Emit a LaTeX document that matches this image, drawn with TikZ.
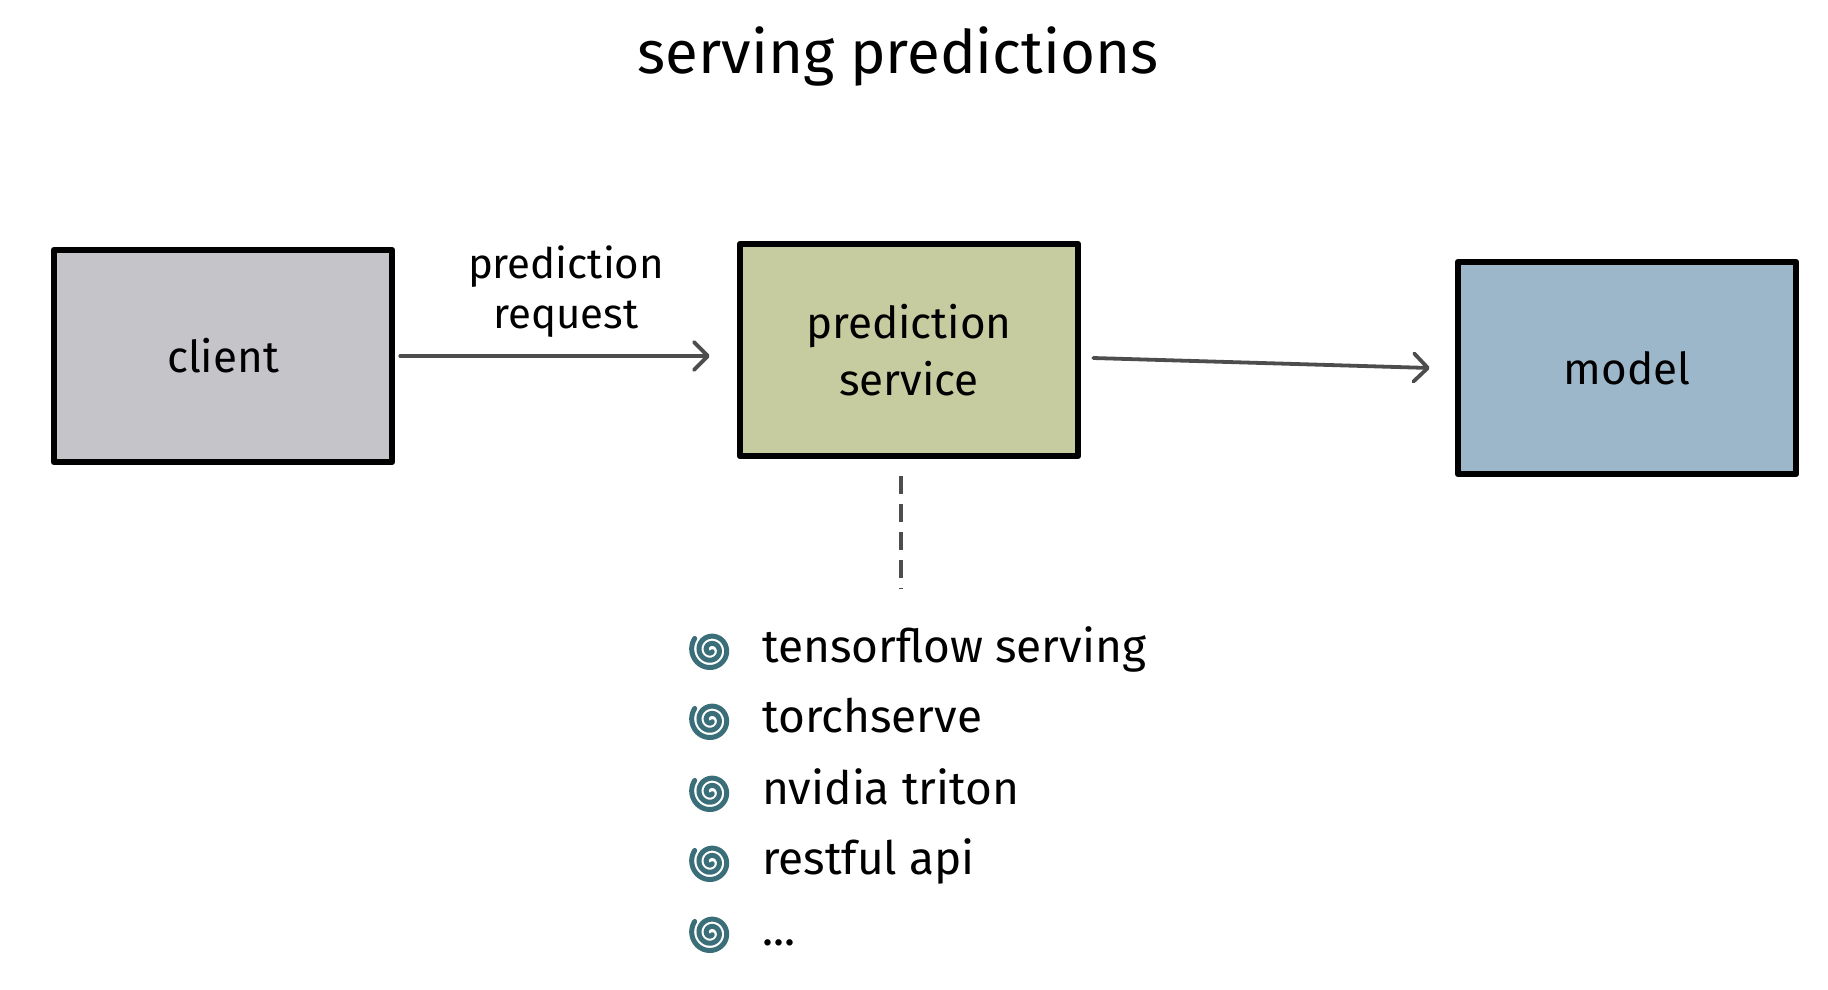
\documentclass[tikz,border=0pt]{standalone}
\usepackage{fontspec}
\setmainfont{Fira Sans}
\usetikzlibrary{arrows.meta}
\definecolor{clientfill}{HTML}{C5C4C9}
\definecolor{servicefill}{HTML}{C6CBA0}
\definecolor{modelfill}{HTML}{9DB7CA}
\definecolor{spiralcol}{HTML}{3A6E79}
\definecolor{arrowcol}{HTML}{4D4D4D}
\begin{document}
\begin{tikzpicture}[x=1pt,y=-1pt,
  box/.style={draw=black, line width=6.5pt, line join=round, minimum width=338pt, minimum height=212pt,
    inner sep=0pt, align=center, font=\fontsize{44}{57}\selectfont},
  arr/.style={draw=arrowcol, line width=3.8pt, line cap=round,
    -{Straight Barb[length=14pt,width=28pt,line width=3.8pt,round]}},
  dashline/.style={draw=arrowcol, line width=4pt, dash pattern=on 18pt off 10pt},
  lbl/.style={align=center, font=\fontsize{42}{50}\selectfont, inner sep=0pt},
  item/.style={anchor=base west, inner sep=0pt, font=\fontsize{46}{56}\selectfont},
  spiral/.pic={\draw[spiralcol, line width=5pt, line cap=round]
     plot[domain=0.15:2.6, samples=160, variable=\t]
     ({(1+19*\t/2.6)*cos(360*\t)}, {(1+19*\t/2.6)*sin(360*\t)});}
]
\useasboundingbox[fill=white] (0,0) rectangle (1828,990);

\node[font=\fontsize{60}{70}\selectfont, anchor=base] (title) at (898,74) {serving predictions};

\node[box, fill=clientfill] (client) at (223,356) {client};
\node[box, fill=servicefill] (service) at (909,350) {prediction\\service};
\node[box, fill=modelfill] (model) at (1627,368) {model};

\draw[arr] ([xshift=5pt]client.east) -- ([xshift=-27pt]client.east -| service.west);
\node[lbl] (reqlabel) at (566,292) {prediction\\request};
\draw[arr] ([xshift=12pt,yshift=-8pt]service.east) -- ([xshift=-25pt]model.west);

\coordinate (dashend) at (901,589);
\draw[dashline] ([yshift=-17pt]service.south -| dashend) -- (dashend);

\pic at (711,650) {spiral};
\pic at (711,720) {spiral};
\pic at (711,792) {spiral};
\pic at (711,862) {spiral};
\pic at (711,933) {spiral};
\node[item] (b1) at (762,662) {tensorflow serving};
\node[item] (b2) at (762,732) {torchserve};
\node[item] (b3) at (762,804) {nvidia triton};
\node[item] (b4) at (762,874) {restful api};
\node[item] (b5) at (762,945) {...};
\end{tikzpicture}
\end{document}
